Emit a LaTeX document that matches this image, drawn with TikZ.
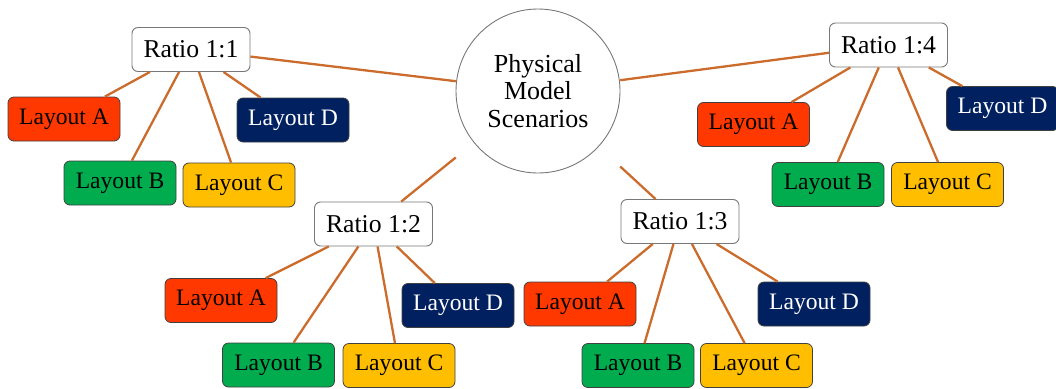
\documentclass[tikz,border=0pt]{standalone}
\usepackage{fontspec}
\setmainfont{Liberation Serif}

\definecolor{linkc}{RGB}{204,108,44}
\definecolor{lyA}{RGB}{255,56,0}
\definecolor{lyB}{RGB}{0,172,78}
\definecolor{lyC}{RGB}{255,190,0}
\definecolor{lyD}{RGB}{0,32,96}
\definecolor{ringc}{RGB}{120,120,120}

\tikzset{
  ratiobox/.style={draw=ringc, fill=white, rounded corners=6pt, line width=0.9pt,
    minimum width=118pt, minimum height=44pt, inner sep=0pt,
    font=\fontsize{25.7}{28}\selectfont},
  layoutbox/.style={draw=black!75, rounded corners=6pt, line width=0.8pt,
    minimum width=112pt, minimum height=44pt, inner sep=0pt,
    font=\fontsize{23.6}{26}\selectfont},
  la/.style={layoutbox, fill=lyA},
  lb/.style={layoutbox, fill=lyB},
  lc/.style={layoutbox, fill=lyC},
  ld/.style={layoutbox, fill=lyD, text=white},
  hub/.style={rectangle, minimum size=164pt, inner sep=0pt, align=center,
    font=\fontsize{26}{27.5}\selectfont},
  link/.style={draw=linkc, line width=2.3pt},
}

\begin{document}
\begin{tikzpicture}[x=1pt,y=-1pt]
  \useasboundingbox (0,0) rectangle (1056,388);

  % central topic
  \node[hub] (hub) at (538,91) {Physical\\Model\\Scenarios};
  \draw[ringc, line width=0.9pt] (hub.center) circle[radius=82pt];

  % ratio groups
  \node[ratiobox] (r1) at (191,49.5) {Ratio 1:1};
  \node[ratiobox] (r2) at (373.5,224) {Ratio 1:2};
  \node[ratiobox] (r3) at (680,221.5) {Ratio 1:3};
  \node[ratiobox] (r4) at (888.5,45) {Ratio 1:4};

  % layouts of ratio 1:1
  \node[la] (r1a) at (64,119) {Layout A};
  \node[lb] (r1b) at (120,183) {Layout B};
  \node[lc] (r1c) at (239,185) {Layout C};
  \node[ld] (r1d) at (293,120) {Layout D};

  % layouts of ratio 1:2
  \node[la] (r2a) at (221,300.5) {Layout A};
  \node[lb] (r2b) at (278.5,365) {Layout B};
  \node[lc] (r2c) at (399,365.5) {Layout C};
  \node[ld] (r2d) at (458,305.5) {Layout D};

  % layouts of ratio 1:3
  \node[la] (r3a) at (580,304) {Layout A};
  \node[lb] (r3b) at (638,365.5) {Layout B};
  \node[lc] (r3c) at (756.5,365.5) {Layout C};
  \node[ld] (r3d) at (814,304) {Layout D};

  % layouts of ratio 1:4
  \node[la] (r4a) at (753.5,124.5) {Layout A};
  \node[lb] (r4b) at (828,184.5) {Layout B};
  \node[lc] (r4c) at (947.5,184.5) {Layout C};
  \node[ld] (r4d) at (1002.5,108.5) {Layout D};

  % connectors
  \foreach \r in {r1,r2,r3,r4} {
    \draw[link] (hub) -- (\r);
    \foreach \l in {a,b,c,d} {
      \draw[link] (\r) -- (\r\l);
    }
  }
\end{tikzpicture}
\end{document}
